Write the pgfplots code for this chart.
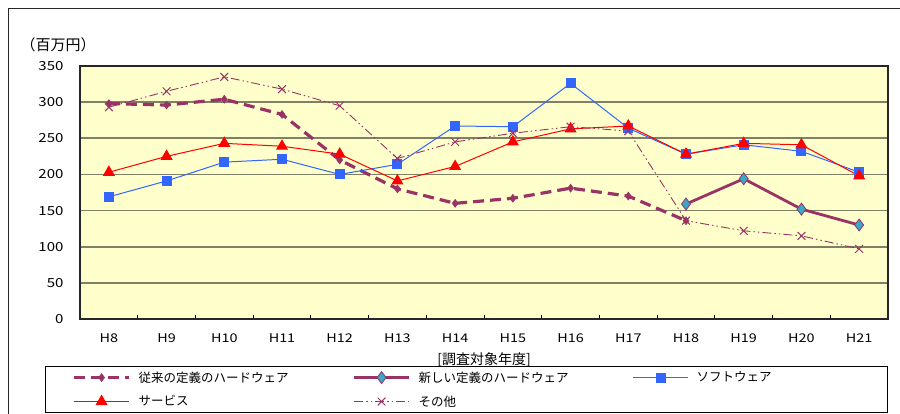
\documentclass[border=0pt]{standalone}
\usepackage{fontspec}
\usepackage{pgfplots}
\pgfplotsset{compat=1.18}
\setmainfont{Noto Sans CJK JP}
\newfontfamily\numfont[FakeStretch=1.2]{Noto Sans CJK JP}
\definecolor{plum}{HTML}{993366}
\definecolor{tealm}{HTML}{3AA6C8}
\definecolor{sw}{HTML}{3366FF}
\definecolor{bg}{HTML}{FFFFCC}
\definecolor{gridc}{HTML}{808066}
\pgfplotstableread{
x old
0 298
1 296
2 304
3 283
4 220
5 180
6 160
7 167
8 181
9 170
10 136
}\olddata
\pgfplotstableread{
x new
10 159
11 194
12 152
13 130
}\newdata
\pgfplotstableread{
x sw
0 169
1 191
2 217
3 221
4 200
5 214
6 267
7 266
8 326
9 264
10 228
11 241
12 232
13 203
}\swdata
\pgfplotstableread{
x sv
0 203
1 225
2 243
3 239
4 228
5 191
6 211
7 245
8 263
9 267
10 228
11 243
12 241
13 198
}\svdata
\pgfplotstableread{
x ot
0 293
1 315
2 335
3 318
4 295
5 222
6 245
7 257
8 266
9 260
10 136
11 122
12 115
13 97
}\otdata
\begin{document}
\begin{tikzpicture}[x=1pt,y=1pt]
\useasboundingbox (0,0) rectangle (900,414);
\draw[line width=1.2pt, black!85] (8.5,0) -- (8.5,405.5) -- (900,405.5);
\node[anchor=west, font=\fontsize{15}{16}\selectfont] at (17,369) {（百万円）};
\begin{axis}[
  at={(80pt,95pt)}, anchor=south west,
  width=808pt, height=253pt, scale only axis,
  xmin=-0.5, xmax=13.5, ymin=0, ymax=350,
  axis background/.style={fill=bg},
  ytick={0,50,...,350},
  ymajorgrids, major grid style={gridc, line width=1.6pt},
  xtick={0,...,13},
  xticklabels={H8,H9,H10,H11,H12,H13,H14,H15,H16,H17,H18,H19,H20,H21},
  major tick length=0pt,
  minor xtick={0.5,1.5,...,12.5},
  minor tick length=4pt,
  tick align=inside,
  xtick pos=bottom, ytick pos=left,
  minor tick style={black, line width=1pt},
  axis line style={line width=1.6pt, black!85},
  yticklabel style={font=\numfont\fontsize{12.5}{13}\selectfont, xshift=-13pt},
  xticklabel style={font=\numfont\fontsize{12}{13}\selectfont, yshift=-11pt},
  /pgf/number format/assume math mode=true,
  xlabel={[調査対象年度]},
  xlabel style={font=\fontsize{14}{15}\selectfont, yshift=-3pt},
  legend columns=3,
  legend cell align=left,
  legend image code/.code={\draw[mark repeat=2,mark phase=2,#1] plot coordinates {(0pt,0pt) (27.5pt,0pt) (55pt,0pt)};},
  legend style={at={(-0.0433,-0.186)}, anchor=north west, draw=black, line width=1pt,
    fill=white, font=\fontsize{12.5}{13}\selectfont, inner xsep=27pt, inner ysep=3pt,
    nodes={inner ysep=2pt}, row sep=8pt},
]
\addplot[plum, line width=3.2pt, dash pattern=on 11pt off 6pt,
  mark=diamond*, mark size=4pt, mark options={solid, fill=plum, draw=plum, line width=0.5pt}]
  table[x=x, y=old] {\olddata};
\addlegendentry{\makebox[218pt][l]{\hspace{6pt}従来の定義のハードウェア}}
\addplot[plum, line width=2.8pt,
  mark=diamond*, mark size=6pt, mark options={solid, fill=tealm, draw=plum, line width=0.8pt}]
  table[x=x, y=new] {\newdata};
\addlegendentry{\makebox[218pt][l]{\hspace{6pt}新しい定義のハードウェア}}
\addplot[sw, line width=1pt,
  mark=square*, mark size=4.5pt, mark options={solid, fill=sw, draw=sw}]
  table[x=x, y=sw] {\swdata};
\addlegendentry{\makebox[168pt][l]{\hspace{6pt}ソフトウェア}}
\addplot[red, line width=1pt,
  mark=triangle*, mark size=6pt, mark options={solid, fill=red, draw=red}]
  table[x=x, y=sv] {\svdata};
\addlegendentry{\makebox[218pt][l]{\hspace{6pt}サービス}}
\addplot[plum, line width=0.9pt, dash pattern=on 9pt off 3pt on 1.5pt off 3pt on 1.5pt off 3pt,
  mark=x, mark size=5.5pt, mark options={solid, line width=1pt}]
  table[x=x, y=ot] {\otdata};
\addlegendentry{\makebox[218pt][l]{\hspace{6pt}その他}}
\end{axis}
\end{tikzpicture}
\end{document}
